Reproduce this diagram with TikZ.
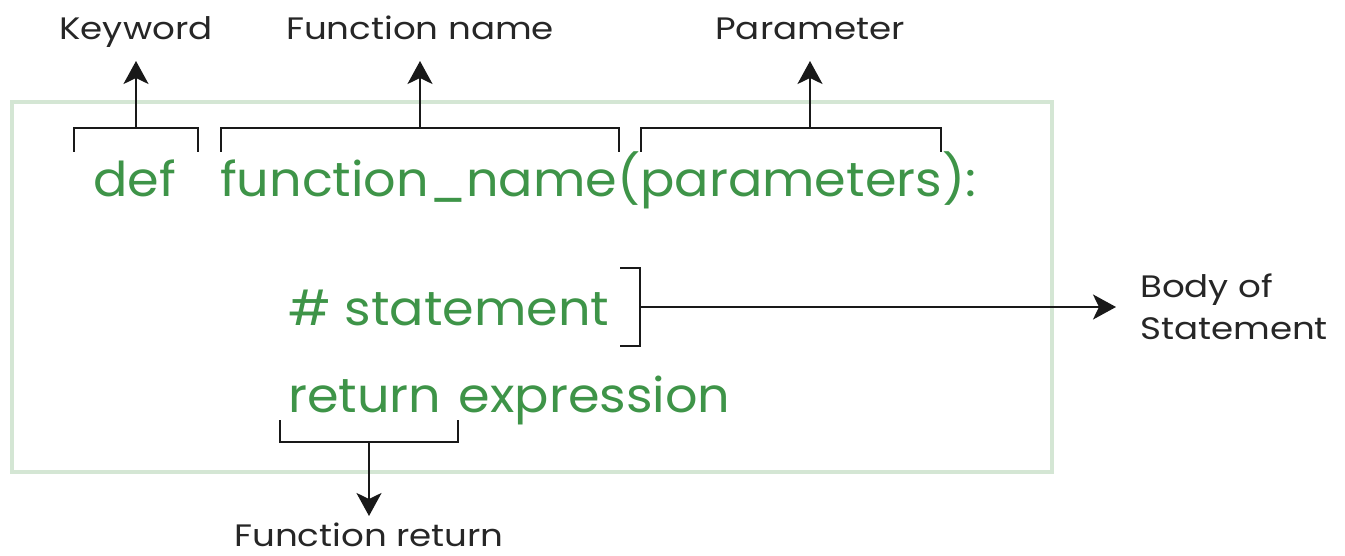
\documentclass[tikz,border=0pt]{standalone}
\usepackage{fontspec}
\setmainfont{Poppins}
\newfontfamily\codefont[FakeStretch=1.06]{Poppins}
\newfontfamily\labelfont[FakeStretch=1.15]{Poppins}
\usetikzlibrary{arrows.meta}
\definecolor{codegreen}{RGB}{62,148,72}
\definecolor{framegreen}{RGB}{212,230,212}
\tikzset{
  code/.style={text=codegreen, font=\codefont\fontsize{48}{52}\selectfont, inner sep=0pt, anchor=base west},
  label/.style={text=black!85, font=\labelfont\fontsize{31}{42}\selectfont, inner sep=0pt, anchor=base},
  brace/.style={draw=black!90, line width=2.4pt},
  pointer/.style={draw=black!90, line width=2.4pt, -{Stealth[length=23pt,width=25pt,inset=6pt]}},
}
\begin{document}
\begin{tikzpicture}[x=1pt,y=-1pt]
\useasboundingbox (0,0) rectangle (1345,556);
% outer frame
\draw[framegreen, line width=4pt] (12,102) rectangle (1052,472);

% code lines
\node[code] (def) at (93,197) {def};
\node[code] (sig) at (220,197) {function\_name(parameters):};
\node[code] (stmt) at (288,325) {\# statement};
\node[code] (ret) at (288,412) {return\hspace{4pt} expression};

% labels
\node[label] (kw) at (136,40) {Keyword};
\node[label] (fn) at (420,40) {Function name};
\node[label] (par) at (810,40) {Parameter};
\node[label, anchor=base west, align=left] (body) at (1140,339) {Body of\\Statement};
\node[label] (fret) at (369,546) {Function return};

% brackets over the signature
\draw[brace] (74,152) |- (198,128) -- (198,152);
\coordinate (kwm) at (136,128);
\draw[brace] (221,152) |- (619,128) -- (619,152);
\coordinate (fnm) at (420,128);
\draw[brace] (641,152) |- (941,128) -- (941,152);
\coordinate (parm) at (810,128);

\draw[pointer] (kwm) -- (kwm |- 0,61);
\draw[pointer] (fnm) -- (fnm |- 0,61);
\draw[pointer] (parm) -- (parm |- 0,61);

% bracket beside the statement
\draw[brace] (620,268) -- (640,268) -- (640,346) -- (620,346);
\coordinate (stm) at (640,307);
\draw[pointer] (stm) -- ([xshift=-24pt]body.west |- stm);

% bracket under the return keyword
\draw[brace] (280,420) |- (458,442) -- (458,420);
\coordinate (retm) at (369,442);
\draw[pointer] (retm) -- (retm |- 0,516);
\end{tikzpicture}
\end{document}
